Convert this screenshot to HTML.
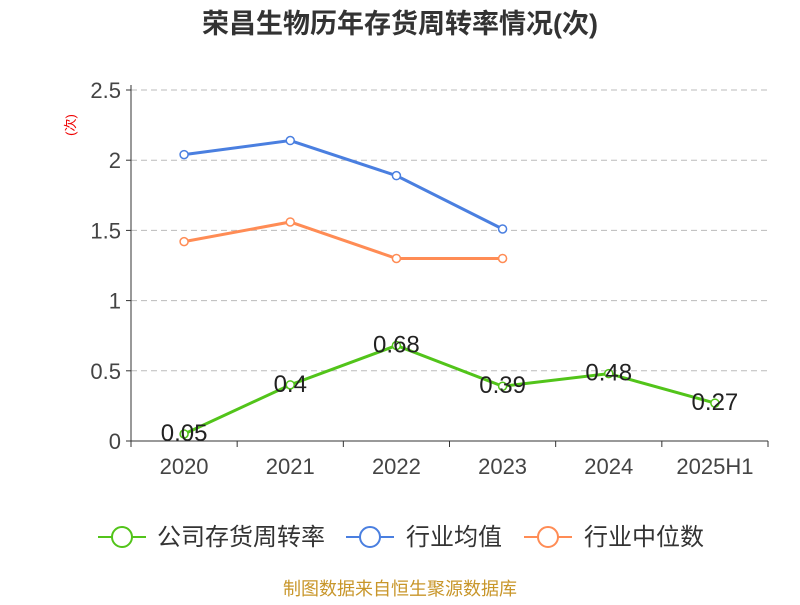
<!DOCTYPE html>
<html><head><meta charset="utf-8"><style>
body{margin:0;background:#fff;}
svg{font-family:"Liberation Sans","Noto Sans CJK SC",sans-serif;}
</style></head><body>
<svg id="chart" width="800" height="600" viewBox="0 0 800 600">
<text x="400" y="33" text-anchor="middle" font-size="27" font-weight="bold" fill="#333">荣昌生物历年存货周转率情况(次)</text>
<text x="0" y="0" transform="translate(75,125) rotate(-90)" text-anchor="middle" font-size="13" fill="#e00">(次)</text>
<g id="grid"></g><g id="axes"></g><g id="series"></g>
<g>
<g><line x1="98" y1="537" x2="146" y2="537" stroke="#52c41a" stroke-width="2"/><circle cx="122" cy="537" r="10" fill="#fff" stroke="#52c41a" stroke-width="2"/><text x="157" y="545" font-size="24" fill="#333">公司存货周转率</text></g>
<g><line x1="346" y1="537" x2="394" y2="537" stroke="#4a7fe0" stroke-width="2"/><circle cx="370" cy="537" r="10" fill="#fff" stroke="#4a7fe0" stroke-width="2"/><text x="406" y="545" font-size="24" fill="#333">行业均值</text></g>
<g><line x1="524" y1="537" x2="572" y2="537" stroke="#ff8c55" stroke-width="2"/><circle cx="548" cy="537" r="10" fill="#fff" stroke="#ff8c55" stroke-width="2"/><text x="584" y="545" font-size="24" fill="#333">行业中位数</text></g>
</g>
<text x="400" y="595" text-anchor="middle" font-size="18" fill="#c8962a">制图数据来自恒生聚源数据库</text>
</svg>
<script>
const categories=["2020","2021","2022","2023","2024","2025H1"];
const companyValues=[0.05,0.4,0.68,0.39,0.48,0.27];
const industryAvg=[2.04,2.14,1.89,1.51];
const industryMedian=[1.42,1.56,1.30,1.30];
const yTicks=[0,0.5,1,1.5,2,2.5];
const yTickLabels=["0","0.5","1","1.5","2","2.5"];
const NS="http://www.w3.org/2000/svg";
const x0=131,x1=768,y0=441,yTop=90,yMax=2.5;
const bw=(x1-x0)/categories.length;
function xs(i){return x0+bw*(i+0.5);}
function ys(v){return y0-(v/yMax)*(y0-yTop);}
function mk(tag,attrs,parent){const e=document.createElementNS(NS,tag);for(const k in attrs)e.setAttribute(k,attrs[k]);parent.appendChild(e);return e;}
const grid=document.getElementById('grid'),axes=document.getElementById('axes'),ser=document.getElementById('series');
yTicks.forEach((t,i)=>{
 if(t>0){const g=mk('line',{x1:x0,x2:x1,y1:ys(t),y2:ys(t),stroke:'#bbb','stroke-dasharray':'6,4'},grid);
 
 }
 const tk=mk('line',{x1:x0-5,x2:x0,y1:ys(t),y2:ys(t),stroke:'#333'},axes);
 
 
 const lb=mk('text',{x:x0-10,y:ys(t)+8,'text-anchor':'end','font-size':22,fill:'#444'},axes);
 lb.textContent=yTickLabels[i];
 
 
});
const ya=mk('line',{x1:x0,x2:x0,y1:yTop-5,y2:y0,stroke:'#333'},axes);


const xa=mk('line',{x1:x0,x2:x1,y1:y0,y2:y0,stroke:'#333'},axes);


for(let i=0;i<=categories.length;i++){const t=mk('line',{x1:x0+bw*i,x2:x0+bw*i,y1:y0,y2:y0+6,stroke:'#333'},axes);
 
 }
categories.forEach((c,i)=>{const l=mk('text',{x:xs(i),y:y0+33,'text-anchor':'middle','font-size':22,fill:'#444'},axes);
 l.textContent=c;
 
 });
function drawLine(vals,color,name,labels){
 const pts=vals.map((v,i)=>xs(i)+','+ys(v)).join(' ');
 const pl=mk('polyline',{points:pts,fill:'none',stroke:color,'stroke-width':3},ser);
 
 
 vals.forEach((v,i)=>{const c=mk('circle',{cx:xs(i),cy:ys(v),r:4,fill:'#fff',stroke:color,'stroke-width':1.5},ser);
 
 
 if(labels){const t=mk('text',{x:xs(i),y:ys(v)+7,'text-anchor':'middle','font-size':24,fill:'#222'},ser);
 t.textContent=String(v);
 
 }});
}
drawLine(industryAvg,'#4a7fe0','industry-avg',false);
drawLine(industryMedian,'#ff8c55','industry-median',false);
drawLine(companyValues,'#52c41a','company',true);
</script>
</body></html>
